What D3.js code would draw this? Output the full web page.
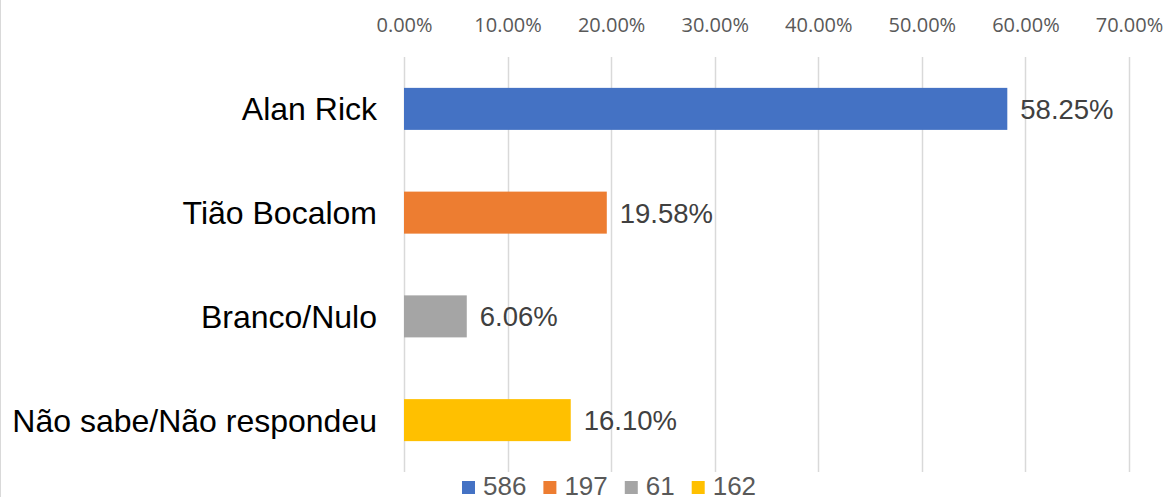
<!DOCTYPE html>
<html>
<head>
<meta charset="utf-8">
<script src="https://cdn.jsdelivr.net/npm/d3@7"></script>
<style>
  html, body { margin: 0; padding: 0; background: #fff; }
</style>
</head>
<body>
<div id="chart"></div>
<script>
const categories = ["Alan Rick", "Tião Bocalom", "Branco/Nulo", "Não sabe/Não respondeu"];
const shares = [0.5825, 0.1958, 0.0606, 0.161];
const counts = ["586", "197", "61", "162"];
const colors = ["#4472C4", "#ED7D31", "#A5A5A5", "#FFC000"];
const ticks = [0, 0.1, 0.2, 0.3, 0.4, 0.5, 0.6, 0.7];

const width = 1168;
const height = 497;

const svg = d3
  .select("#chart")
  .append("svg")
  .attr("width", width)
  .attr("height", height);

// chart frame, only the left edge shows
svg
  .append("line")
  .attr("x1", 0.5)
  .attr("x2", 0.5)
  .attr("y1", 0)
  .attr("y2", height)
  .attr("stroke", "#d9d9d9");

const x = d3.scaleLinear().domain([0, 0.7]).range([404, 1129]);
const y = d3
  .scaleBand()
  .domain(categories)
  .range([57, 472])
  .paddingInner(0.595)
  .paddingOuter(0.2975);

// gridlines
svg
  .append("g")
  .selectAll("line")
  .data(ticks)
  .join("line")
  .attr("x1", (d) => Math.round(x(d)) + 0.5)
  .attr("x2", (d) => Math.round(x(d)) + 0.5)
  .attr("y1", 57)
  .attr("y2", 472)
  .attr("stroke", "#d9d9d9")
  .attr("stroke-width", 1.5);

// top axis labels
const xAxis = d3
  .axisTop(x)
  .tickValues(ticks)
  .tickFormat(d3.format(".2%"))
  .tickSize(0)
  .tickPadding(0);

svg
  .append("g")
  .attr("transform", "translate(0,32)")
  .call(xAxis)
  .call((g) => g.select(".domain").remove())
  .call((g) =>
    g
      .selectAll("text")
      .attr("fill", "#595959")
      .style("font", "20px 'Open Sans', sans-serif")
  );

// bars
svg
  .append("g")
  .selectAll("rect")
  .data(categories)
  .join("rect")
  .attr("x", x(0))
  .attr("y", (d) => y(d))
  .attr("width", (d, i) => x(shares[i]) - x(0))
  .attr("height", y.bandwidth())
  .attr("fill", (d, i) => colors[i]);

// category labels
svg
  .append("g")
  .selectAll("text")
  .data(categories)
  .join("text")
  .attr("x", 377)
  .attr("y", (d) => y(d) + y.bandwidth() / 2)
  .attr("dy", "0.36em")
  .attr("text-anchor", "end")
  .attr("fill", "#000")
  .style("font", "32px 'Liberation Sans', Arial, sans-serif")
  .text((d) => d);

// value labels
svg
  .append("g")
  .selectAll("text")
  .data(categories)
  .join("text")
  .attr("x", (d, i) => x(shares[i]) + 13)
  .attr("y", (d) => y(d) + y.bandwidth() / 2)
  .attr("dy", "0.36em")
  .attr("fill", "#404040")
  .style("font", "27.5px 'Liberation Sans', Arial, sans-serif")
  .text((d, i) => d3.format(".2%")(shares[i]));

// legend
const legend = svg.append("g");
let lx = 462;
counts.forEach((c, i) => {
  legend
    .append("rect")
    .attr("x", lx)
    .attr("y", 481)
    .attr("width", 13)
    .attr("height", 13)
    .attr("fill", colors[i]);
  const t = legend
    .append("text")
    .attr("x", lx + 21)
    .attr("y", 495)
    .attr("fill", "#595959")
    .style("font", "26px 'Liberation Sans', Arial, sans-serif")
    .text(c);
  lx += 21 + t.node().getComputedTextLength() + 17;
});
</script>
</body>
</html>
